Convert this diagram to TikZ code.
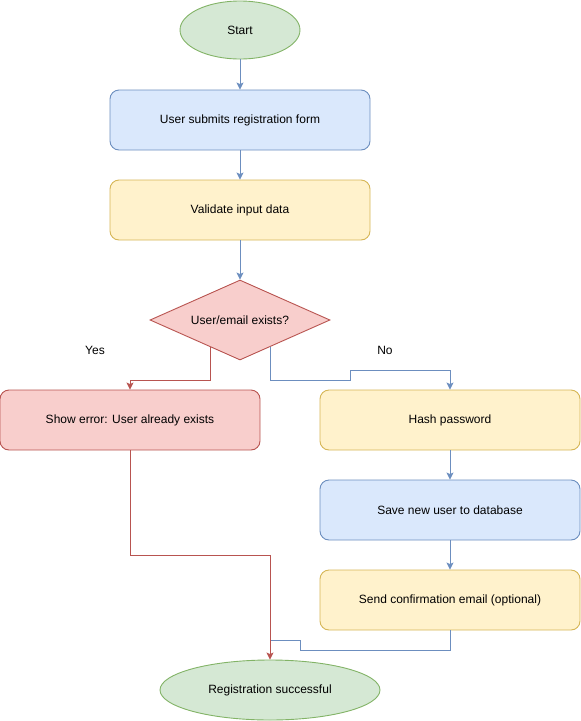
\documentclass[tikz,border=0pt]{standalone}
\usepackage{fontspec}
\setmainfont{Liberation Sans}
\usetikzlibrary{shapes.geometric,arrows.meta}
\definecolor{bfill}{HTML}{DAE8FC}\definecolor{bdraw}{HTML}{6C8EBF}
\definecolor{yfill}{HTML}{FFF2CC}\definecolor{ydraw}{HTML}{D6B656}
\definecolor{rfill}{HTML}{F8CECC}\definecolor{rdraw}{HTML}{B85450}
\definecolor{gfill}{HTML}{D5E8D4}\definecolor{gdraw}{HTML}{82B366}
\begin{document}
\begin{tikzpicture}[x=1pt,y=-1pt,
  every node/.style={font=\fontsize{12}{14}\selectfont, text=black},
  boxbase/.style={rectangle, rounded corners=9pt, minimum width=260pt, minimum height=60pt, line width=0.9pt, inner sep=0pt},
  bluebox/.style={boxbase, fill=bfill, draw=bdraw},
  yellowbox/.style={boxbase, fill=yfill, draw=ydraw},
  redbox/.style={boxbase, fill=rfill, draw=rdraw},
  greenell/.style={ellipse, fill=gfill, draw=gdraw, line width=0.9pt, inner sep=0pt},
  reddia/.style={diamond, aspect=2.25, fill=rfill, draw=rdraw, line width=0.9pt, inner sep=0pt, minimum width=180pt, minimum height=80pt},
  tipstyle/.style={-{Stealth[length=7pt,width=7pt,inset=1.5pt]}},
  bluearrow/.style={tipstyle, draw=bdraw, line width=0.9pt},
  redarrow/.style={tipstyle, draw=rdraw, line width=0.9pt},
  blueline/.style={draw=bdraw, line width=0.9pt},
  lbl/.style={inner sep=0pt}
]
\useasboundingbox (0,0) rectangle (581,721);
\node[greenell, minimum width=120pt, minimum height=58pt] (start) at (240,30) {Start};
\node[bluebox] (form) at (240,120) {User submits registration form};
\node[yellowbox] (valid) at (240,210) {Validate input data};
\node[reddia] (dia) at (240,320) {User/email exists?};
\node[redbox] (err) at (130,420) {Show error: User already exists};
\node[yellowbox] (hash) at (450,420) {Hash password};
\node[bluebox] (save) at (450,510) {Save new user to database};
\node[yellowbox] (send) at (450,600) {Send confirmation email (optional)};
\node[greenell, minimum width=220pt, minimum height=60pt] (reg) at (270,690) {Registration successful};
\node[lbl] (yes) at (95,350) {Yes};
\node[lbl] (no) at (385,350) {No};
\coordinate (yesstart) at (210,346.7);
\coordinate (nostart) at (270,346.7);

\draw[bluearrow] (start) -- (form);
\draw[bluearrow] (form) -- (valid);
\draw[bluearrow] (valid) -- (dia);
\draw[redarrow] (yesstart) -- (210,380) -| (err.north);
\draw[bluearrow] (nostart) -- (270,380) -- (350,380) -- (350,370) -| (hash.north);
\draw[bluearrow] (hash) -- (save);
\draw[bluearrow] (save) -- (send);
\draw[blueline] (send.south) |- (300,650) -- (300,640) -- (270,640);
\draw[redarrow] (err.south) |- (270,555) -- (reg.north);
\end{tikzpicture}
\end{document}
